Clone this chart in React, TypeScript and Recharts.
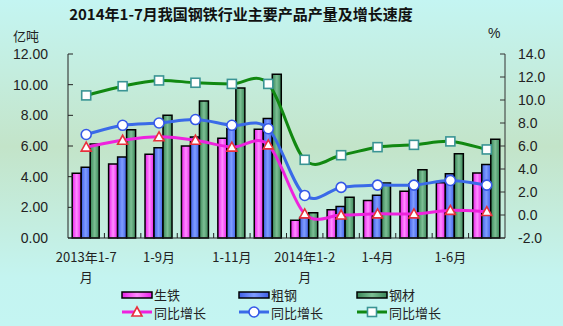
import React from 'react';
import { ComposedChart, Bar, Line, XAxis, YAxis, Legend } from 'recharts';

const categories = ['2013年1-7月', '1-8月', '1-9月', '1-10月', '1-11月', '1-12月', '2014年1-2月', '1-3月', '1-4月', '1-5月', '1-6月', '1-7月'];
const pigIron = [4.22, 4.83, 5.46, 6.0, 6.5, 7.09, 1.16, 1.85, 2.45, 3.05, 3.6, 4.24];
const crudeSteel = [4.61, 5.28, 5.89, 6.59, 7.13, 7.79, 1.33, 2.05, 2.78, 3.52, 4.19, 4.8];
const steelProducts = [6.13, 7.06, 8.0, 8.94, 9.78, 10.68, 1.65, 2.65, 3.59, 4.45, 5.5, 6.44];
const pigGrowth = [5.9, 6.5, 6.8, 6.5, 5.9, 6.1, 0.1, 0.0, 0.1, 0.1, 0.4, 0.3];
const steelGrowth = [7.0, 7.8, 8.0, 8.3, 7.8, 7.5, 1.7, 2.4, 2.6, 2.6, 3.0, 2.6];
const productsGrowth = [10.4, 11.2, 11.7, 11.5, 11.4, 11.4, 4.8, 5.2, 5.9, 6.1, 6.4, 5.7];
const leftTicks = [0, 2, 4, 6, 8, 10, 12];
const rightTicks = [-2, 0, 2, 4, 6, 8, 10, 12, 14];
const barNames = ['生铁', '粗钢', '钢材'];
const lineName = '同比增长';

const data = categories.map((c, i) => ({
  name: c,
  pig: pigIron[i],
  crude: crudeSteel[i],
  prod: steelProducts[i],
  pigG: pigGrowth[i],
  crudeG: steelGrowth[i],
  prodG: productsGrowth[i],
}));

const PLOT_LEFT = 68;
const PLOT_RIGHT = 505;
const BAND = (PLOT_RIGHT - PLOT_LEFT) / categories.length;
const CJK = '"Noto Sans CJK SC", "Noto Sans", sans-serif';
const NUM = '"Liberation Sans", Arial, sans-serif';

// Catmull-Rom style smoothing (like Excel's smoothed lines)
const smoothCurve: any = (context: any) => {
  let pts: number[][] = [];
  return {
    areaStart() {},
    areaEnd() {},
    lineStart() {
      pts = [];
    },
    point(x: number, y: number) {
      pts.push([+x, +y]);
    },
    lineEnd() {
      const n = pts.length;
      if (!n) return;
      context.moveTo(pts[0][0], pts[0][1]);
      for (let i = 0; i < n - 1; i++) {
        const p0 = pts[i - 1] || pts[i];
        const p1 = pts[i];
        const p2 = pts[i + 1];
        const p3 = pts[i + 2] || p2;
        context.bezierCurveTo(
          p1[0] + (p2[0] - p0[0]) / 6,
          p1[1] + (p2[1] - p0[1]) / 6,
          p2[0] - (p3[0] - p1[0]) / 6,
          p2[1] - (p3[1] - p1[1]) / 6,
          p2[0],
          p2[1]
        );
      }
    },
  };
};

const Tri = ({ cx, cy }: any) => {
  if (cx == null || cy == null) return null;
  return (
    <polygon
      points={`${cx},${cy - 5} ${cx - 5},${cy + 4} ${cx + 5},${cy + 4}`}
      fill="#ffffff"
      stroke="#e8303c"
      strokeWidth={1.6}
    />
  );
};
const Circ = ({ cx, cy }: any) => {
  if (cx == null || cy == null) return null;
  return <circle cx={cx} cy={cy} r={5} fill="#ffffff" stroke="#3558e8" strokeWidth={1.6} />;
};
const Sq = ({ cx, cy }: any) => {
  if (cx == null || cy == null) return null;
  return <rect x={cx - 4.5} y={cy - 4.5} width={9} height={9} fill="#ffffff" stroke="#3a9494" strokeWidth={1.6} />;
};

const XTick = (props: any) => {
  const { x, y, payload, index } = props;
  const label: string = payload.value;
  const lines = label.length > 6 ? [label.slice(0, -1), label.slice(-1)] : [label];
  return (
    <g>
      {index < categories.length - 1 && (
        <line x1={x + BAND / 2} x2={x + BAND / 2} y1={y} y2={y - 5} stroke="#222" strokeWidth={1} />
      )}
      {index % 2 === 0 && (
        <text x={x} y={y} textAnchor="middle" fontFamily={CJK} fontSize={13} fill="#222">
          {lines.map((l, i) => (
            <tspan key={i} x={x} dy={i === 0 ? 24 : 20}>
              {l}
            </tspan>
          ))}
        </text>
      )}
    </g>
  );
};

const legendCols = [122, 239, 357];
const barFills = ['url(#gPink)', 'url(#gBlue)', 'url(#gGreen)'];
const lineColors = ['#ee22dd', '#3a6ae8', '#118811'];
const markers = [Tri, Circ, Sq];

const renderLegend = () => (
  <svg width={563} height={40} style={{ display: 'block' }}>
    {legendCols.map((cx, i) => {
      const M = markers[i];
      return (
        <g key={i}>
          <rect x={cx} y={7} width={30} height={6} fill={barFills[i]} stroke="#000" strokeWidth={1.5} />
          <text x={cx + 32} y={10} dy="0.36em" fontFamily={CJK} fontSize={13} fill="#222">
            {barNames[i]}
          </text>
          <line x1={cx} x2={cx + 30} y1={27} y2={27} stroke={lineColors[i]} strokeWidth={3} />
          <M cx={cx + 15} cy={27} />
          <text x={cx + 32} y={28} dy="0.36em" fontFamily={CJK} fontSize={13} fill="#222">
            {lineName}
          </text>
        </g>
      );
    })}
  </svg>
);

export default function App() {
  return (
    <div
      style={{
        position: 'fixed',
        left: 0,
        top: 0,
        width: 563,
        height: 326,
        overflow: 'hidden',
        background: 'linear-gradient(to bottom, #c4f5f2 0%, #c4ecdc 25%, #c3e4c9 45%, #c4ecdc 65%, #c4f4f0 85%, #c4f5f2 100%)',
      }}
    >
      <div
        style={{
          position: 'absolute',
          left: 0,
          top: 4,
          width: 482,
          textAlign: 'center',
          fontFamily: CJK,
          fontWeight: 'bold',
          fontSize: 15,
          color: '#111',
          lineHeight: '20px',
        }}
      >
        2014年1-7月我国钢铁行业主要产品产量及增长速度
      </div>
      <div style={{ position: 'absolute', left: 13, top: 27, fontFamily: CJK, fontSize: 13, color: '#222', lineHeight: '18px' }}>
        亿吨
      </div>
      <div style={{ position: 'absolute', left: 488, top: 24, fontFamily: NUM, fontSize: 14, color: '#222', lineHeight: '18px' }}>
        %
      </div>
      <div style={{ position: 'absolute', left: 0, top: 0 }}>
        <ComposedChart
          width={563}
          height={326}
          data={data}
          margin={{ top: 54, right: 0, bottom: 58, left: 0 }}
          barCategoryGap="11.5%"
          barGap={0}
        >
          <defs>
            <linearGradient id="gPink" x1="0" y1="0" x2="1" y2="0">
              <stop offset="0%" stopColor="#e81ee8" />
              <stop offset="50%" stopColor="#ff8cff" />
              <stop offset="100%" stopColor="#e81ee8" />
            </linearGradient>
            <linearGradient id="gBlue" x1="0" y1="0" x2="1" y2="0">
              <stop offset="0%" stopColor="#3f5fe6" />
              <stop offset="50%" stopColor="#7f9dff" />
              <stop offset="100%" stopColor="#3f5fe6" />
            </linearGradient>
            <linearGradient id="gGreen" x1="0" y1="0" x2="1" y2="0">
              <stop offset="0%" stopColor="#3a8658" />
              <stop offset="50%" stopColor="#7cbf94" />
              <stop offset="100%" stopColor="#3a8658" />
            </linearGradient>
          </defs>
          <XAxis
            dataKey="name"
            height={30}
            interval={0}
            tickLine={false}
            tickSize={0}
            tickMargin={0}
            tick={<XTick />}
            axisLine={{ stroke: '#222', strokeWidth: 1 }}
          />
          <YAxis
            yAxisId="left"
            orientation="left"
            width={68}
            domain={[0, 12]}
            ticks={leftTicks}
            tickFormatter={(v: number) => v.toFixed(2)}
            tickSize={-5}
            tickMargin={25}
            interval={0}
            axisLine={{ stroke: '#222', strokeWidth: 1 }}
            tickLine={{ stroke: '#222', strokeWidth: 1 }}
            tick={{ fontFamily: NUM, fontSize: 14, fill: '#222' }}
          />
          <YAxis
            yAxisId="right"
            orientation="right"
            width={58}
            domain={[-2, 14]}
            ticks={rightTicks}
            tickFormatter={(v: number) => v.toFixed(1)}
            tickSize={-5}
            tickMargin={18}
            interval={0}
            axisLine={{ stroke: '#333', strokeWidth: 1 }}
            tickLine={{ stroke: '#333', strokeWidth: 1 }}
            tick={{ fontFamily: NUM, fontSize: 14, fill: '#222', textAnchor: 'start' }}
          />
          <Legend
            content={renderLegend}
            layout="horizontal"
            verticalAlign="middle"
            align="center"
            wrapperStyle={{ position: 'absolute', left: 0, top: 285, width: 563, height: 40 }}
          />
          <Bar yAxisId="left" dataKey="pig" name="生铁" fill="url(#gPink)" stroke="#000" strokeWidth={1.5} isAnimationActive={false} />
          <Bar yAxisId="left" dataKey="crude" name="粗钢" fill="url(#gBlue)" stroke="#000" strokeWidth={1.5} isAnimationActive={false} />
          <Bar yAxisId="left" dataKey="prod" name="钢材" fill="url(#gGreen)" stroke="#000" strokeWidth={1.5} isAnimationActive={false} />
          <Line yAxisId="right" dataKey="pigG" name="同比增长" type={smoothCurve} stroke="#ee22dd" strokeWidth={3} dot={<Tri />} activeDot={false} isAnimationActive={false} />
          <Line yAxisId="right" dataKey="crudeG" name="同比增长" type={smoothCurve} stroke="#3a6ae8" strokeWidth={3} dot={<Circ />} activeDot={false} isAnimationActive={false} />
          <Line yAxisId="right" dataKey="prodG" name="同比增长" type={smoothCurve} stroke="#118811" strokeWidth={3} dot={<Sq />} activeDot={false} isAnimationActive={false} />
        </ComposedChart>
      </div>
    </div>
  );
}
